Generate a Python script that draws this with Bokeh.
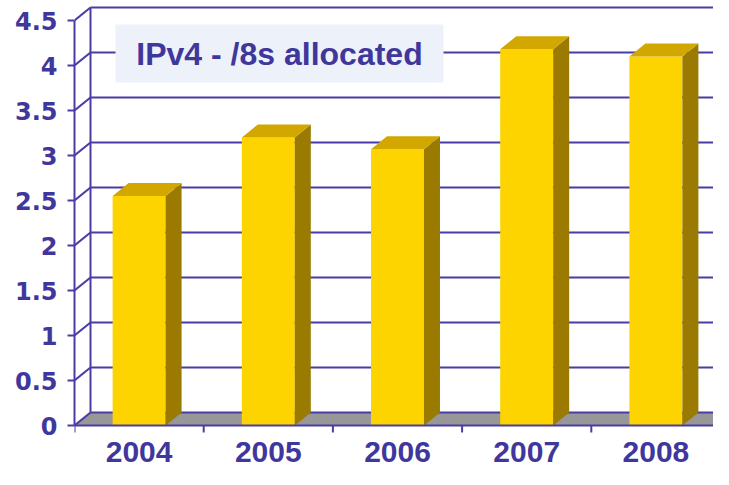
from bokeh.plotting import figure
from bokeh.models import Range1d, FixedTicker, BoxAnnotation, Label
from bokeh.core.properties import value
from bokeh.embed import file_html
from bokeh.resources import INLINE

# ---- data ----
years = ["2004", "2005", "2006", "2007", "2008"]
allocated = [2.55, 3.2, 3.07, 4.18, 4.1]
y_ticks = [0, 0.5, 1, 1.5, 2, 2.5, 3, 3.5, 4, 4.5]
y_tick_labels = ["0", "0.5", "1", "1.5", "2", "2.5", "3", "3.5", "4", "4.5"]
title_text = "IPv4 - /8s allocated"

# ---- layout / style constants ----
W, H = 713, 469
LEFT = 74            # left border (y axis panel)
ZERO_Y = 425         # px from top where value 0 sits
PX_X = 129.2         # px per category
PX_Y = 90.0          # px per unit
DEPTH_X, DEPTH_Y = 16, 13
BAR_HALF = 0.205

LINE = "#4A3CA6"
TEXT = "#40379C"
FLOOR = "#979797"
FRONT = "#FDD300"
TOP = "#D2A700"
SIDE = "#9A7A00"
BOX = "#ECF1FA"

x0 = -0.5
x1 = x0 + (W - LEFT) / PX_X
y1 = ZERO_Y / PX_Y
y0 = -(H - ZERO_Y) / PX_Y
dx = DEPTH_X / PX_X
dy = DEPTH_Y / PX_Y
ymax = y_ticks[-1]

p = figure(width=W, height=H, x_range=Range1d(x0, x1), y_range=Range1d(y0, y1),
           output_backend="svg", toolbar_location=None, x_axis_location=None,
           min_border_left=LEFT, min_border_right=0, min_border_top=0, min_border_bottom=0)
p.outline_line_color = None
p.xgrid.visible = False
p.ygrid.visible = False
p.background_fill_color = "white"

cx = list(range(len(years)))
xend = cx[-1] + 0.5

# floor
p.patch([x0, xend, xend + dx, x0 + dx], [0, 0, dy, dy], fill_color=FLOOR, line_color=None)

# back wall gridlines
p.segment(x0=[x0 + dx] * len(y_ticks), y0=[v + dy for v in y_ticks],
          x1=[xend + dx] * len(y_ticks), y1=[v + dy for v in y_ticks],
          line_color=LINE, line_width=2)
# side wall diagonals
p.segment(x0=[x0] * len(y_ticks), y0=y_ticks,
          x1=[x0 + dx] * len(y_ticks), y1=[v + dy for v in y_ticks],
          line_color=LINE, line_width=2)
# back wall left edge, floor right edge
p.segment(x0=[x0 + dx, xend], y0=[dy, 0], x1=[x0 + dx, xend + dx], y1=[ymax + dy, dy],
          line_color=LINE, line_width=2)

# bars
lefts = [c - BAR_HALF for c in cx]
rights = [c + BAR_HALF for c in cx]
p.quad(left=lefts, right=rights, bottom=0, top=allocated, fill_color=FRONT, line_color=None)
p.patches(xs=[[r, r + dx, r + dx, r] for r in rights],
          ys=[[0, dy, v + dy, v] for v in allocated],
          fill_color=SIDE, line_color=None)
p.patches(xs=[[l, r, r + dx, l + dx] for l, r in zip(lefts, rights)],
          ys=[[v, v, v + dy, v + dy] for v in allocated],
          fill_color=TOP, line_color=None)

# x axis (front floor edge), ticks and labels
p.segment(x0=[x0], y0=[0], x1=[xend], y1=[0], line_color=LINE, line_width=2)
bounds = [c - 0.5 for c in cx] + [xend]
p.segment(x0=bounds, y0=[0] * len(bounds), x1=bounds, y1=[-7 / PX_Y] * len(bounds),
          line_color=LINE, line_width=2)
p.text(x=cx, y=[-26.5 / PX_Y] * len(cx), text=years, text_align="center",
       text_baseline="middle", text_font=value("Liberation Sans"),
       text_font_style="bold", text_font_size="30px", text_color=TEXT)

# y axis
ya = p.yaxis[0]
ya.ticker = FixedTicker(ticks=y_ticks)
ya.major_label_overrides = {t: l for t, l in zip(y_ticks, y_tick_labels)}
ya.bounds = (0, ymax)
ya.axis_line_color = LINE
ya.axis_line_width = 2
ya.major_tick_line_color = LINE
ya.major_tick_line_width = 2
ya.major_tick_out = 7
ya.major_tick_in = 0
ya.minor_tick_line_color = None
ya.major_label_standoff = 10
ya.major_label_text_font = "DejaVu Sans"
ya.major_label_text_font_style = "bold"
ya.major_label_text_font_size = "24px"
ya.major_label_text_color = TEXT

# title box
bx_l = x0 + (115 - LEFT) / PX_X
bx_r = x0 + (443 - LEFT) / PX_X
bx_t = (ZERO_Y - 24) / PX_Y
bx_b = (ZERO_Y - 82) / PX_Y
p.add_layout(BoxAnnotation(left=bx_l, right=bx_r, top=bx_t, bottom=bx_b,
                           fill_color=BOX, fill_alpha=1, line_color=None))
p.add_layout(Label(x=(bx_l + bx_r) / 2, y=(bx_t + bx_b) / 2, text=title_text,
                   text_align="center", text_baseline="middle",
                   text_font="Liberation Sans", text_font_style="bold",
                   text_font_size="32px", text_color=TEXT))

open("out.html", "w").write(file_html(p, INLINE))
